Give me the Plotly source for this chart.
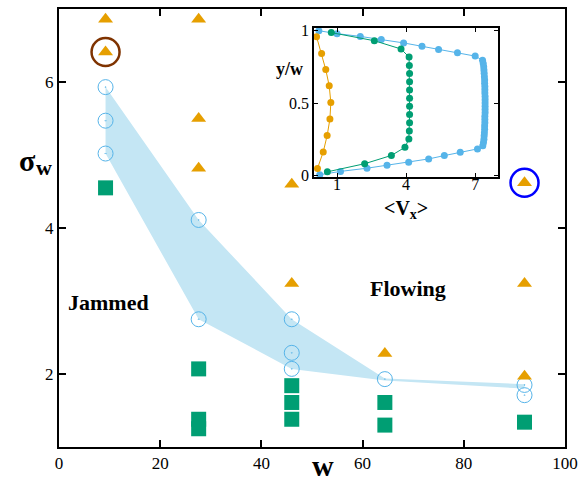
import plotly.graph_objects as go

# ---------------- main panel data ----------------
W_COLS = [9.2, 27.6, 46, 64.4, 92]

tri_x = [9.2, 9.2, 27.6, 27.6, 27.6, 46, 46, 64.4, 92, 92, 92]
tri_y = [6.86, 6.41, 6.86, 5.50, 4.82, 4.60, 3.24, 2.28, 4.62, 3.24, 1.97]

circ_x = [9.2, 9.2, 9.2, 27.6, 27.6, 46, 46, 46, 64.4, 92, 92]
circ_y = [5.93, 5.47, 5.02, 4.11, 2.75, 2.75, 2.29, 2.07, 1.93, 1.85, 1.71]

sq_x = [9.2, 27.6, 27.6, 27.6, 46, 46, 46, 64.4, 64.4, 92]
sq_y = [4.55, 2.07, 1.38, 1.25, 1.84, 1.61, 1.38, 1.61, 1.30, 1.34]

band_upper = [5.93, 4.11, 2.75, 1.94, 1.86]
band_lower = [5.02, 2.75, 2.07, 1.91, 1.80]

hl_brown = (9.2, 6.41)
hl_blue = (92, 4.62)

x_ticks = [0, 20, 40, 60, 80, 100]
y_ticks = [2, 4, 6]

# ---------------- inset data ----------------
orange_y = [0.050, 0.164, 0.277, 0.391, 0.505, 0.620, 0.732, 0.843, 0.959]
orange_v = [0.15, 0.40, 0.57, 0.69, 0.73, 0.66, 0.51, 0.33, 0.11]

green_y = [0.027, 0.083, 0.140, 0.196, 0.253, 0.309, 0.366, 0.422, 0.479,
           0.535, 0.592, 0.648, 0.705, 0.761, 0.818, 0.874, 0.931, 0.987]
green_v = [0.58, 2.20, 3.36, 3.95, 4.12, 4.14, 4.15, 4.15, 4.15,
           4.15, 4.15, 4.15, 4.15, 4.14, 4.13, 3.78, 2.62, 0.75]

blue_y = [0.007, 0.030, 0.052, 0.072, 0.093, 0.116, 0.139, 0.162, 0.185,
          0.207, 0.229, 0.252, 0.275, 0.297, 0.320, 0.343, 0.365, 0.388,
          0.411, 0.434, 0.456, 0.479, 0.502, 0.524, 0.547, 0.570, 0.593,
          0.615, 0.638, 0.661, 0.683, 0.706, 0.729, 0.752, 0.774, 0.797,
          0.825, 0.848, 0.870, 0.893, 0.916, 0.939, 0.961, 0.980, 1.000]
blue_v = [0.25, 1.15, 2.30, 3.17, 4.11, 4.98, 5.66, 6.35, 7.10,
          7.33, 7.36, 7.38, 7.39, 7.40, 7.41, 7.41, 7.42, 7.42,
          7.42, 7.43, 7.43, 7.43, 7.43, 7.43, 7.43, 7.42, 7.42,
          7.42, 7.41, 7.41, 7.40, 7.39, 7.38, 7.37, 7.35, 7.32,
          7.00, 6.23, 5.41, 4.69, 3.89, 2.92, 2.01, 1.00, 0.21]

inset_x_ticks = [1, 4, 7]
inset_y_ticks = [0, 0.5, 1]
inset_y_text = ["0", "0.5", "1"]

ORANGE = "#E69F00"
GREEN = "#009E73"
SKY = "#56B4E9"
BAND = "#C4E6F4"
SERIF = "Liberation Serif"

fig = go.Figure()

# band
fig.add_trace(go.Scatter(x=W_COLS, y=band_lower, mode="lines", line=dict(width=0, color=BAND),
                         showlegend=False, hoverinfo="skip"))
fig.add_trace(go.Scatter(x=W_COLS, y=band_upper, mode="lines", line=dict(width=0, color=BAND),
                         fill="tonexty", fillcolor=BAND, showlegend=False, hoverinfo="skip"))

fig.add_trace(go.Scatter(x=circ_x, y=circ_y, mode="markers",
                         marker=dict(symbol="circle-open-dot", size=15, color=SKY, line=dict(width=1, color=SKY)),
                         showlegend=False))
fig.add_trace(go.Scatter(x=sq_x, y=sq_y, mode="markers",
                         marker=dict(symbol="square", size=15, color=GREEN, line=dict(width=0)),
                         showlegend=False))
fig.add_trace(go.Scatter(x=tri_x, y=tri_y, mode="markers",
                         marker=dict(symbol="triangle-up", size=13, color=ORANGE, line=dict(width=0)),
                         showlegend=False))
fig.add_trace(go.Scatter(x=[hl_brown[0]], y=[hl_brown[1]], mode="markers",
                         marker=dict(symbol="circle-open", size=28, color="#7F3300", line=dict(width=2.5, color="#7F3300")),
                         showlegend=False))
fig.add_trace(go.Scatter(x=[hl_blue[0]], y=[hl_blue[1]], mode="markers",
                         marker=dict(symbol="circle-open", size=28, color="#0000FF", line=dict(width=2.5, color="#0000FF")),
                         showlegend=False))

# inset
fig.add_trace(go.Scatter(x=blue_v, y=blue_y, mode="lines+markers", xaxis="x2", yaxis="y2",
                         line=dict(color=SKY, width=1), marker=dict(size=7, color=SKY), showlegend=False))
fig.add_trace(go.Scatter(x=green_v, y=green_y, mode="lines+markers", xaxis="x2", yaxis="y2",
                         line=dict(color=GREEN, width=1), marker=dict(size=7, color=GREEN), showlegend=False))
fig.add_trace(go.Scatter(x=orange_v, y=orange_y, mode="lines+markers", xaxis="x2", yaxis="y2",
                         line=dict(color=ORANGE, width=1), marker=dict(size=7, color=ORANGE), showlegend=False))

axis_common = dict(showline=True, linecolor="black", ticks="inside", mirror="ticks",
                   showgrid=False, zeroline=False, tickcolor="black",
                   tickfont=dict(family=SERIF, size=17, color="black"))

fig.update_layout(
    width=584, height=482,
    margin=dict(l=59, r=19, t=4, b=35),
    plot_bgcolor="white", paper_bgcolor="white",
    xaxis=dict(range=[0, 100], tickvals=x_ticks, linewidth=2, ticklen=7, tickwidth=1.5, **axis_common),
    yaxis=dict(range=[1, 7], tickvals=y_ticks, linewidth=2, ticklen=7, tickwidth=1.5, **axis_common),
    xaxis2=dict(domain=[0.504, 0.868], anchor="y2", range=[0, 8], tickvals=inset_x_ticks,
                linewidth=1.5, ticklen=4, tickwidth=1, ticklabelstandoff=-8,
                showline=True, linecolor="black", ticks="inside", mirror="ticks",
                showgrid=False, zeroline=False, tickcolor="black",
                tickfont=dict(family=SERIF, size=16, color="black")),
    yaxis2=dict(domain=[0.616, 0.957], anchor="x2", range=[-0.01, 1.02], tickvals=inset_y_ticks,
                ticktext=inset_y_text, linewidth=1.5, ticklen=4, tickwidth=1,
                showline=True, linecolor="black", ticks="inside", mirror="ticks",
                showgrid=False, zeroline=False, tickcolor="black",
                tickfont=dict(family=SERIF, size=16, color="black")),
    showlegend=False,
)

ann_font = lambda s: dict(family=SERIF, size=s, color="black")
annotations = [
    dict(text="<b>Jammed</b>", x=0.0988, y=0.3296, font=ann_font(22)),
    dict(text="<b>Flowing</b>", x=0.690, y=0.361, font=ann_font(22)),
    dict(text="<b>w</b>", x=0.522, y=-0.043, font=ann_font(30)),
    dict(text="<b>σ</b>", x=-0.063, y=0.655, font=ann_font(30)),
    dict(text="<b>w</b>", x=-0.029, y=0.638, font=ann_font(22)),
    dict(text="<b>y/w</b>", x=0.4565, y=0.862, font=ann_font(18)),
    dict(text="<b>&lt;V<sub>x</sub>&gt;</b>", x=0.686, y=0.543, font=ann_font(20)),
]
for a in annotations:
    a.update(xref="paper", yref="paper", showarrow=False, xanchor="center", yanchor="middle")
fig.update_layout(annotations=annotations)

fig.write_html("out.html", config={"displayModeBar": False},
               post_script="document.body.style.margin='0px';document.body.style.overflow='hidden';")
